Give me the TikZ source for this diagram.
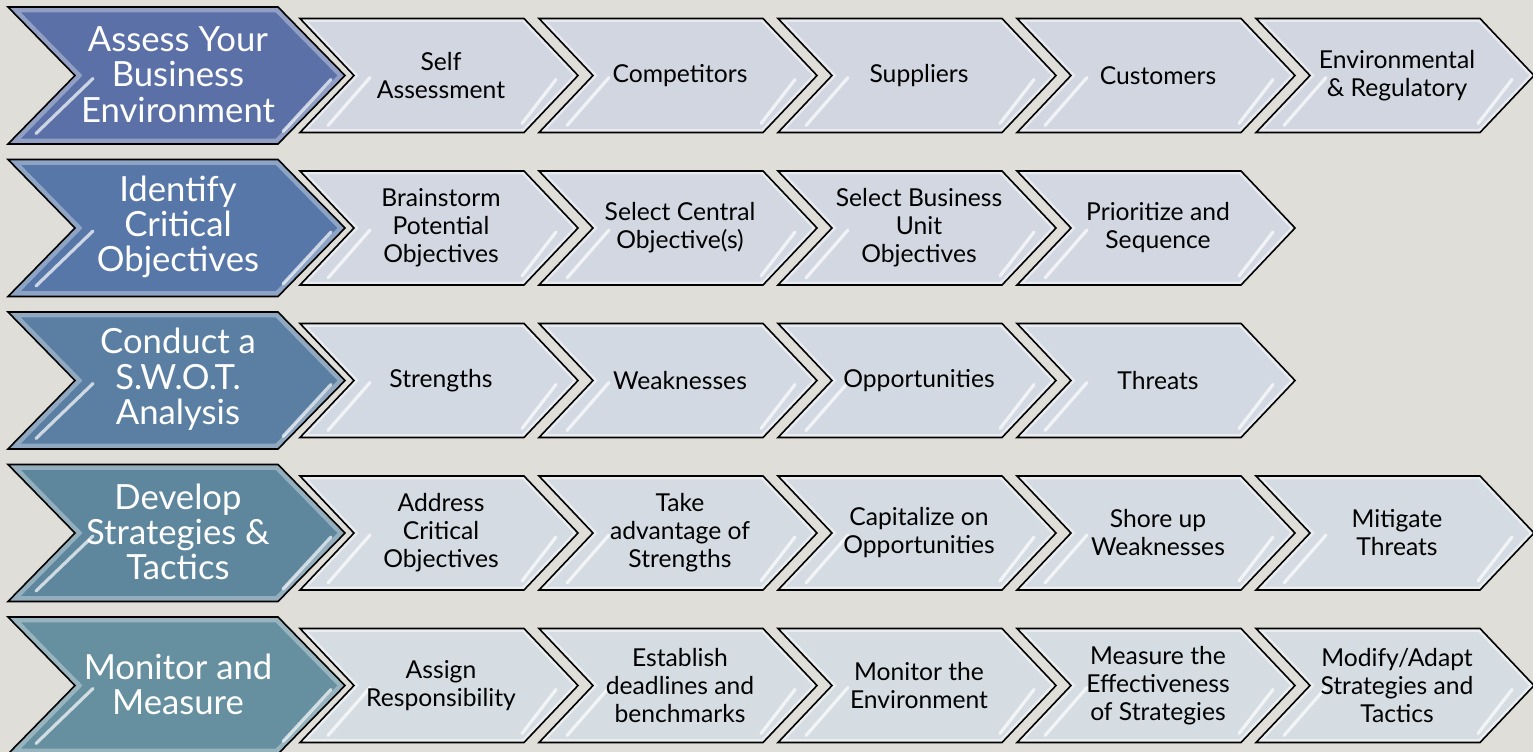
\documentclass[tikz,border=0pt]{standalone}
\usepackage{fontspec}
\setmainfont{Lato}
\usetikzlibrary{calc}

\definecolor{pagebg}{HTML}{E0DED9}
\definecolor{headA}{HTML}{5A70A6}
\definecolor{headB}{HTML}{5777A8}
\definecolor{headC}{HTML}{5A7FA2}
\definecolor{headD}{HTML}{5E879E}
\definecolor{headE}{HTML}{66909F}
\definecolor{stepA}{HTML}{D2D6E1}
\definecolor{stepB}{HTML}{D2D7E1}
\definecolor{stepC}{HTML}{D3D9E2}
\definecolor{stepD}{HTML}{D4DBE2}
\definecolor{stepE}{HTML}{D5DDE2}

% chevron outlines: #1 centre of the row (big), #1 left / #2 centre (small)
\newcommand{\headshape}[1]{(8,#1-68.5) -- (278,#1-68.5) -- (345,#1) -- (278,#1+68.5) -- (8,#1+68.5) -- (75,#1) -- cycle}
\newcommand{\stepshape}[2]{(#1,#2-57) -- (#1+224,#2-57) -- (#1+278,#2) -- (#1+224,#2+57) -- (#1,#2+57) -- (#1+54,#2) -- cycle}

\tikzset{
  chevline/.style={draw=black, line width=1.2pt, line join=miter},
  glare/.style={white, opacity=0.7, line width=2.4pt, line cap=round},
  headtext/.style={white, font=\fontsize{26}{26.5}\selectfont, align=center, inner sep=0pt},
  steptext/.style={black, font=\fontsize{18.5}{21}\selectfont, align=center, inner sep=0pt},
}

\begin{document}
\begin{tikzpicture}[x=0.75pt,y=0.75pt,yscale=-1,xscale=1]
        \useasboundingbox (0,0) rectangle (1533,752);
        \fill[pagebg] (0,0) rectangle (1533,752);

        %Big chevrons, one per row
        \foreach \r/\col/\txt in {0/headA/{Assess Your\\Business\\Environment},
                                  1/headB/{Identify\\Critical\\Objectives},
                                  2/headC/{Conduct a\\S.W.O.T.\\Analysis},
                                  3/headD/{Develop\\Strategies \&\\Tactics},
                                  4/headE/{Monitor and\\Measure}} {
          \pgfmathsetmacro{\c}{75.5+152.5*\r}
          \begin{scope}
            \clip \headshape{\c};
            \fill[\col] \headshape{\c};
            \draw[line width=8pt, \col!45!white, opacity=0.6] \headshape{\c};
          \end{scope}
          \draw[glare] (93,\c+3) -- (36,\c+58);
          \draw[glare] (331,\c+4) -- (283,\c+56);
          \draw[chevline] \headshape{\c};
          % Text Node
          \node[headtext] (head\r) at (178,\c-1) {\txt};
        }

        %Small chevrons, the steps of each row
        \foreach \r/\col/\steps in {0/stepA/{{Self\\Assessment},Competitors,Suppliers,Customers,{Environmental\\\& Regulatory}},
                                    1/stepB/{{Brainstorm\\Potential\\Objectives},{Select Central\\Objective(s)},{Select Business\\Unit\\Objectives},{Prioritize and\\Sequence}},
                                    2/stepC/{Strengths,Weaknesses,Opportunities,Threats},
                                    3/stepD/{{Address\\Critical\\Objectives},{Take\\advantage of\\Strengths},{Capitalize on\\Opportunities},{Shore up\\Weaknesses},{Mitigate\\Threats}},
                                    4/stepE/{{Assign\\Responsibility},{Establish\\deadlines and\\benchmarks},{Monitor the\\Environment},{Measure the\\Effectiveness\\of Strategies},{Modify/Adapt\\Strategies and\\Tactics}}} {
          \pgfmathsetmacro{\c}{75.5+152.5*\r}
          \foreach \t [count=\i from 0] in \steps {
            \pgfmathsetmacro{\L}{300+239*\i}
            \begin{scope}
              \clip \stepshape{\L}{\c};
              \fill[\col] \stepshape{\L}{\c};
              \draw[line width=5pt, white, opacity=0.5] \stepshape{\L}{\c};
            \end{scope}
            \draw[glare] (\L+70,\c+2) -- (\L+28,\c+50);
            \draw[glare] (\L+256,\c+4) -- (\L+222,\c+48);
            \draw[chevline] \stepshape{\L}{\c};
            % Text Node
            \node[steptext] (step\r\i) at (\L+141,\c) {\t};
          }
        }

\end{tikzpicture}
\end{document}
